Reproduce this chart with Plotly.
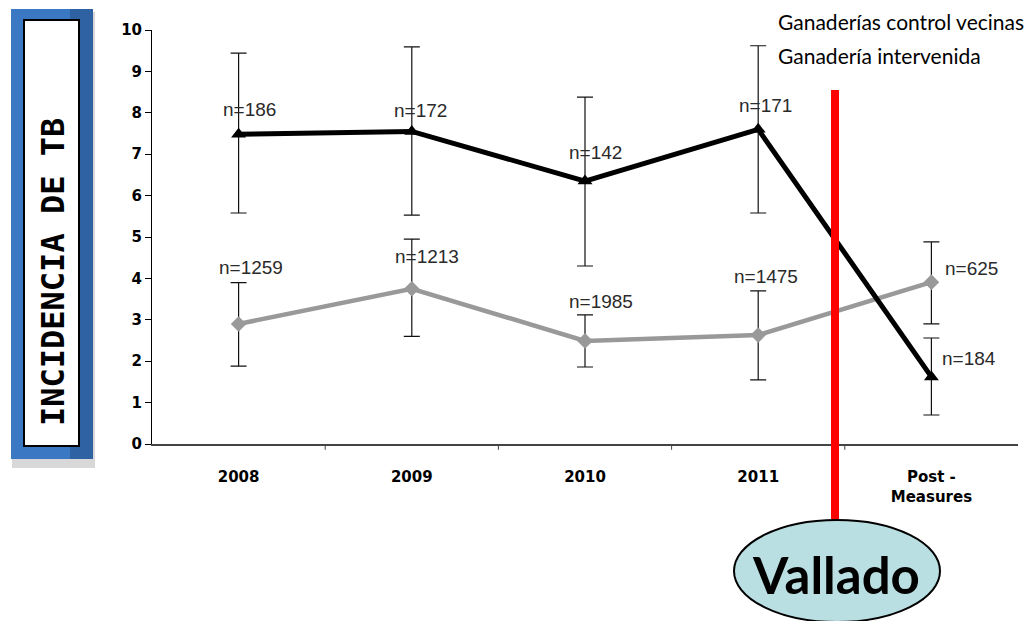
import plotly.graph_objects as go

categories = ["2008", "2009", "2010", "2011", "Post -<br>Measures"]

intervenida = [7.48, 7.55, 6.35, 7.6, 1.62]
intervenida_hi = [9.44, 9.59, 8.38, 9.62, 2.56]
intervenida_lo = [5.58, 5.53, 4.3, 5.58, 0.7]
intervenida_n = ["n=186", "n=172", "n=142", "n=171", "n=184"]

control = [2.9, 3.75, 2.49, 2.63, 3.91]
control_hi = [3.9, 4.95, 3.12, 3.7, 4.88]
control_lo = [1.88, 2.6, 1.86, 1.55, 2.9]
control_n = ["n=1259", "n=1213", "n=1985", "n=1475", "n=625"]

xpos = list(range(len(categories)))

fig = go.Figure()

fig.add_trace(go.Scatter(
    x=xpos, y=control, mode="lines+markers", name="Ganaderías control vecinas",
    line=dict(color="#999999", width=4.5),
    marker=dict(symbol="diamond", size=12, color="#999999"),
    error_y=dict(type="data", symmetric=False,
                 array=[h - v for h, v in zip(control_hi, control)],
                 arrayminus=[v - l for v, l in zip(control, control_lo)],
                 color="#111111", thickness=1.2, width=8),
    showlegend=False,
))
fig.add_trace(go.Scatter(
    x=xpos, y=intervenida, mode="lines+markers", name="Ganadería intervenida",
    line=dict(color="#000000", width=5),
    marker=dict(symbol="triangle-up", size=13, color="#000000"),
    error_y=dict(type="data", symmetric=False,
                 array=[h - v for h, v in zip(intervenida_hi, intervenida)],
                 arrayminus=[v - l for v, l in zip(intervenida, intervenida_lo)],
                 color="#111111", thickness=1.2, width=8),
    showlegend=False,
))

annotations = []
int_off = [(11, 25), (9, 21), (10, 29), (7, 24), (38, 18)]
ctl_off = [(12, 56), (15, 32), (16, 39), (8, 59), (40, 14)]
lab_font = dict(family="Liberation Sans, Arial", size=19, color="#2a2a2a")
for i, (txt, (dx, dy)) in enumerate(zip(intervenida_n, int_off)):
    annotations.append(dict(x=xpos[i], y=intervenida[i], xref="x", yref="y", text=txt,
                            showarrow=False, xshift=dx, yshift=dy, font=lab_font))
for i, (txt, (dx, dy)) in enumerate(zip(control_n, ctl_off)):
    annotations.append(dict(x=xpos[i], y=control[i], xref="x", yref="y", text=txt,
                            showarrow=False, xshift=dx, yshift=dy, font=lab_font))


def px(xp):
    return (xp - 152) / 866


def py(yp):
    return (444 - yp) / 414


annotations.append(dict(x=px(776), y=py(22), xref="paper", yref="paper", xanchor="left", yanchor="middle",
                        text="Ganaderías control vecinas", showarrow=False,
                        font=dict(family="Lato, Open Sans", size=21, color="#000")))
annotations.append(dict(x=px(776), y=py(55), xref="paper", yref="paper", xanchor="left", yanchor="middle",
                        text="Ganadería intervenida", showarrow=False,
                        font=dict(family="Lato, Open Sans", size=21, color="#000")))

annotations.append(dict(x=px(53), y=py(272), xref="paper", yref="paper",
                        text="<b>INCIDENCIA DE TB</b>", textangle=-90, showarrow=False,
                        xanchor="center", yanchor="middle",
                        font=dict(family="DejaVu Sans Mono", size=32, color="#000")))

annotations.append(dict(x=px(836), y=py(574), xref="paper", yref="paper",
                        text="<b>Vallado</b>", showarrow=False, xanchor="center", yanchor="middle",
                        font=dict(family="Lato, Open Sans", size=51, color="#000")))

shapes = [
    dict(type="rect", xref="paper", yref="paper", x0=px(12), x1=px(95), y0=py(468), y1=py(12),
         fillcolor="#d8d8d8", line=dict(width=0), layer="below"),
    dict(type="rect", xref="paper", yref="paper", x0=px(11), x1=px(93), y0=py(459), y1=py(9),
         fillcolor="#3a78c4", line=dict(width=0), layer="below"),
    dict(type="rect", xref="paper", yref="paper", x0=px(70), x1=px(93), y0=py(459), y1=py(9),
         fillcolor="#2f62a3", line=dict(width=0), layer="below"),
    dict(type="rect", xref="paper", yref="paper", x0=px(24), x1=px(79), y0=py(446), y1=py(20),
         fillcolor="#ffffff", line=dict(color="#000", width=2), layer="below"),
    dict(type="line", xref="paper", yref="paper", x0=px(835), x1=px(835), y0=py(520), y1=py(90),
         line=dict(color="#ff0000", width=8)),
    dict(type="circle", xref="paper", yref="paper", x0=px(734), x1=px(940), y0=py(622), y1=py(520),
         fillcolor="#b9dfe2", line=dict(color="#000", width=2)),
]

tick_font = dict(family="DejaVu Sans", size=15, color="#000", weight="bold")

fig.update_layout(
    width=1036, height=621,
    margin=dict(l=152, r=18, t=30, b=177),
    paper_bgcolor="white", plot_bgcolor="white",
    annotations=annotations, shapes=shapes,
    xaxis=dict(range=[-0.5, 4.5], tickmode="array", tickvals=xpos, ticktext=categories,
               showline=True, linecolor="#444", linewidth=2, showgrid=False, zeroline=False,
               ticks="", tickfont=tick_font, ticklabelstandoff=18),
    yaxis=dict(range=[0, 10], dtick=1, showline=True, linecolor="#000", linewidth=1,
               ticks="outside", ticklen=6, tickcolor="#000", showgrid=False, zeroline=False,
               tickfont=tick_font),
)

for b in [0.5, 1.5, 2.5, 3.5]:
    fig.add_shape(type="line", xref="x", yref="paper", x0=b, x1=b, y0=0, y1=-0.014,
                  line=dict(color="#444", width=1))

fig.write_html("out.html", config={"displayModeBar": False},
               post_script="document.body.style.margin='0';")
